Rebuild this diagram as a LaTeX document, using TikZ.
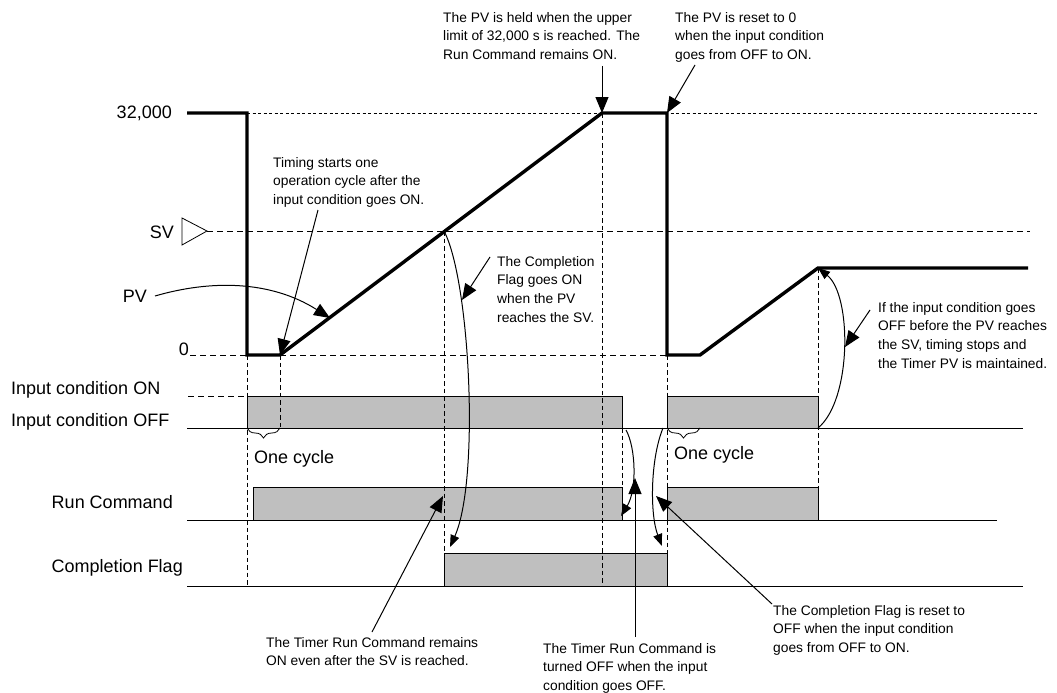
\documentclass[tikz,border=0pt]{standalone}
\usepackage{fontspec}
\setmainfont{Liberation Sans}
\usepackage{tikz}
\usetikzlibrary{arrows.meta,decorations.pathreplacing,calc}

\tikzset{
  pvline/.style={line width=3.4pt, line join=miter},
  guide/.style={line width=0.9pt, dash pattern=on 4.5pt off 3pt},
  toplvl/.style={line width=0.7pt, dash pattern=on 3pt off 2.5pt},
  level/.style={line width=0.9pt, dash pattern=on 6pt off 4pt},
  baseln/.style={line width=0.9pt},
  pulse/.style={draw, fill=black!25, line width=0.9pt},
  note/.style={font=\fontsize{13.8}{18.7}\selectfont, align=left, anchor=north west, inner sep=0pt},
  sig/.style={font=\fontsize{18}{22}\selectfont, inner sep=0pt},
  callout/.style={line width=1pt, -{Triangle[length=16pt,width=13pt]}},
  curvearr/.style={line width=1pt, -{Triangle[length=12pt,width=9pt]}},
  onecyc/.style={decorate, decoration={brace, mirror, amplitude=10pt}, line width=0.8pt},
}

\begin{document}
\begin{tikzpicture}[x=1pt, y=-1pt]
	\useasboundingbox (0,0) rectangle (1057,693);
	
	% --- 1. 定义核心坐标 ---
	\coordinate (T0) at (247,113);   % 32,000 处下降
	\coordinate (A) at (247,355);    % 落到 0
	\coordinate (S) at (280,355);    % 一个周期后开始计时
	\coordinate (V) at (444,231);    % PV 到达 SV
	\coordinate (H) at (602,113);    % 到达上限 32,000
	\coordinate (R) at (667,113);    % 复位
	\coordinate (R0) at (667,355);
	\coordinate (S2) at (700,355);
	\coordinate (P) at (818,268);    % PV 保持
	\coordinate (SVtip) at (207,231);
	
	% --- 2. 基线与电平虚线 ---
	\draw[toplvl] (T0) -- (1037,113);
	\draw[level] (SVtip) -- (1030,231);
	\draw[level] (190,355) -- (R0);
	\draw[level] (188,396) -- (247,396);
	
	\draw[baseln] (187,428) -- (1023,428);
	\draw[baseln] (187,520) -- (997,520);
	\draw[baseln] (187,586) -- (1023,586);
	
	% --- 3. 脉冲 ---
	\draw[pulse] (247,428) rectangle (622,396);   % 输入条件
	\draw[pulse] (667,428) rectangle (818,396);
	\draw[pulse] (253,520) rectangle (622,487);   % 运行指令
	\draw[pulse] (667,520) rectangle (818,487);
	\draw[pulse] (444,586) rectangle (667,553);   % 完成标志
	
	% --- 4. 竖直辅助虚线 ---
	\draw[guide] (A) -- (247,586);
	\draw[guide] (S) -- (280,428);
	\draw[guide] (V) -- (444,553);
	\draw[guide] (H) -- (602,586);
	\draw[guide] (622,428) -- (622,487);
	\draw[guide] (R0) -- (667,553);
	\draw[guide] (P) -- (818,487);
	
	% --- 5. PV 曲线 ---
	\draw[pvline] (187,113) -- (T0) -- (A) -- (S) -- (H) -- (R) -- (R0) -- (S2) -- (P) -- (1028,268);
	
	% SV 三角标记
	\draw[line width=0.8pt, line join=miter] (182,218) -- (SVtip) -- (182,245) -- cycle;
	
	% --- 6. 左侧标注 ---
	\node[sig, anchor=east] (l32) at (172,113) {32,000};
	\node[sig, anchor=east] (lsv) at (174,232) {SV};
	\node[sig, anchor=east] (lpv) at (147,296) {PV};
	\node[sig, anchor=east] (lzero) at (189,349) {0};
	\node[sig, anchor=west] (lon) at (11,390) {Input condition ON};
	\node[sig, anchor=west] (loff) at (11,422) {Input condition OFF};
	\node[sig, anchor=east] (lrun) at (173,502) {Run Command};
	\node[sig, anchor=east] (lflag) at (183,568) {Completion Flag};
	
	% 一个周期
	\draw[onecyc] (247,428) -- (280,428);
	\draw[onecyc] (667,428) -- (700,428);
	\node[sig, anchor=west] (cycA) at (254,459) {One cycle};
	\node[sig, anchor=west] (cycB) at (674,455) {One cycle};
	
	% --- 7. 说明文字 ---
	\node[note] (nheld) at (443,12) {The PV is held when the upper\\limit of 32,000 s is reached. The\\Run Command remains ON.};
	\node[note] (nreset) at (675,12) {The PV is reset to 0\\when the input condition\\goes from OFF to ON.};
	\node[note] (nstart) at (273,157) {Timing starts one\\operation cycle after the\\input condition goes ON.};
	\node[note] (nflagon) at (497,256) {The Completion\\Flag goes ON\\when the PV\\reaches the SV.};
	\node[note] (nstop) at (878,302) {If the input condition goes\\OFF before the PV reaches\\the SV, timing stops and\\the Timer PV is maintained.};
	\node[note] (nremain) at (266,637) {The Timer Run Command remains\\ON even after the SV is reached.};
	\node[note] (nturnoff) at (543,643) {The Timer Run Command is\\turned OFF when the input\\condition goes OFF.};
	\node[note] (nflagoff) at (773,605) {The Completion Flag is reset to\\OFF when the input condition\\goes from OFF to ON.};
	
	% --- 8. 箭头 ---
	\coordinate (heldtail) at (602,66);
	\coordinate (resettail) at (695,65);
	\coordinate (starttail) at (318,210);
	\coordinate (pvtip) at (330,318);
	\coordinate (flagtip) at (450,547);
	\coordinate (flagontail) at (490,257);
	\coordinate (flagonhit) at (462,300);
	\coordinate (offpt) at (818,428);
	\coordinate (stoptail) at (870,310);
	\coordinate (stophit) at (845,347);
	\coordinate (offfall) at (626,430);
	\coordinate (runfall) at (621,516);
	\coordinate (turnofftail) at (635,637);
	\coordinate (turnoffhit) at (635,478);
	\coordinate (onrise) at (663,428);
	\coordinate (flagfall) at (662,546);
	\coordinate (flagofftail) at (772,604);
	\coordinate (flagoffhit) at (656,496);
	\coordinate (remaintail) at (372,632);
	\coordinate (remainhit) at (443,496);
	
	\draw[callout] (heldtail) -- (H);
	\draw[callout] (resettail) -- (R);
	\draw[callout] (starttail) -- (S);
	\draw[callout] ([xshift=8pt]lpv.east) .. controls (210,280) and (270,280) .. (pvtip);
	
	\draw[curvearr] (V) .. controls (470,280) and (480,480) .. (flagtip);
	\draw[callout] (flagontail) -- (flagonhit);
	
	\draw[curvearr] (offpt) .. controls (852,400) and (852,295) .. (P);
	\draw[callout] (stoptail) -- (stophit);
	
	\draw[curvearr] (offfall) .. controls (636,448) and (637,490) .. (runfall);
	\draw[callout] (turnofftail) -- (turnoffhit);
	
	\draw[curvearr] (onrise) .. controls (650,460) and (650,515) .. (flagfall);
	\draw[callout] (flagofftail) -- (flagoffhit);
	
	\draw[callout] (remaintail) -- (remainhit);
	
\end{tikzpicture}
\end{document}
